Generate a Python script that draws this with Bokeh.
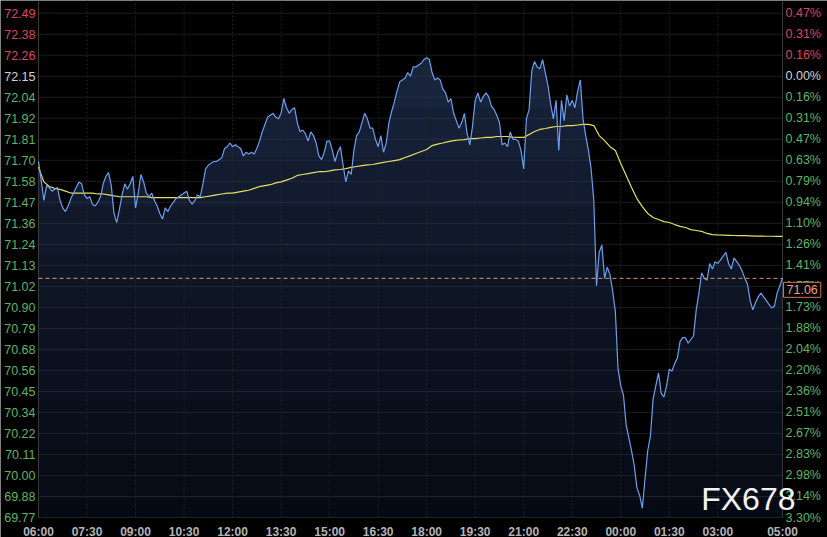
import numpy as np
from bokeh.plotting import figure
from bokeh.models import ColumnDataSource, Label, Range1d
from bokeh.core.properties import value
from bokeh.embed import file_html
from bokeh.resources import INLINE

# ---------------- data ----------------
price_step_minutes = 5       # price readings every 5 minutes from 06:00
avg_step_minutes = 10        # average-line readings every 10 minutes from 06:00
prev_close = 72.15

price = [
    71.69, 71.59, 71.48, 71.56, 71.55, 71.53, 71.54, 71.55, 71.48, 71.44,
    71.42, 71.45, 71.49, 71.52, 71.55, 71.58, 71.57, 71.51, 71.49, 71.50,
    71.46, 71.45, 71.47, 71.50, 71.57, 71.61, 71.63, 71.56, 71.41, 71.36,
    71.43, 71.51, 71.57, 71.54, 71.57, 71.61, 71.44, 71.52, 71.62, 71.58,
    71.52, 71.50, 71.52, 71.48, 71.45, 71.41, 71.38, 71.44, 71.42, 71.45,
    71.47, 71.49, 71.50, 71.51, 71.52, 71.53, 71.48, 71.46, 71.48, 71.51,
    71.50, 71.57, 71.65, 71.67, 71.68, 71.69, 71.69, 71.70, 71.71, 71.76,
    71.77, 71.79, 71.77, 71.78, 71.77, 71.76, 71.72, 71.74, 71.73, 71.74,
    71.73, 71.76, 71.80, 71.85, 71.89, 71.93, 71.94, 71.95, 71.93, 71.92,
    71.95, 72.03, 71.98, 71.95, 71.97, 71.98, 71.90, 71.85, 71.86, 71.84,
    71.80, 71.85, 71.83, 71.79, 71.72, 71.70, 71.74, 71.80, 71.80, 71.75,
    71.69, 71.74, 71.77, 71.67, 71.58, 71.64, 71.62, 71.75, 71.83, 71.85,
    71.90, 71.95, 71.92, 71.87, 71.87, 71.81, 71.77, 71.83, 71.74, 71.79,
    71.90, 71.96, 72.01, 72.07, 72.12, 72.13, 72.14, 72.17, 72.15, 72.20,
    72.20, 72.21, 72.22, 72.24, 72.25, 72.24, 72.17, 72.13, 72.14, 72.13,
    72.08, 72.06, 72.01, 72.03, 71.95, 71.91, 71.87, 71.90, 71.95, 71.84,
    71.78, 71.88, 72.02, 72.06, 72.01, 72.04, 72.06, 72.04, 71.99, 71.97,
    71.94, 71.90, 71.78, 71.79, 71.77, 71.85, 71.81, 71.81, 71.80, 71.75,
    71.65, 71.92, 71.97, 72.18, 72.23, 72.20, 72.19, 72.24, 72.17, 72.10,
    72.00, 71.92, 72.02, 71.75, 72.02, 71.91, 72.05, 71.99, 72.02, 71.98,
    72.07, 72.13, 71.92, 71.83, 71.75, 71.65, 71.48, 71.02, 71.20, 71.24,
    71.06, 71.12, 71.08, 70.99, 70.88, 70.57, 70.48, 70.43, 70.27, 70.20,
    70.13, 70.05, 69.93, 69.89, 69.82, 69.98, 70.13, 70.21, 70.41, 70.48,
    70.55, 70.44, 70.42, 70.48, 70.57, 70.56, 70.60, 70.63, 70.72, 70.74,
    70.74, 70.71, 70.73, 70.75, 70.89, 70.98, 71.09, 71.06, 71.05, 71.14,
    71.11, 71.15, 71.14, 71.16, 71.18, 71.20, 71.14, 71.11, 71.17, 71.15,
    71.13, 71.10, 71.06, 71.03, 70.94, 70.89, 70.93, 70.96, 70.98, 70.96,
    70.94, 70.92, 70.90, 70.91, 70.98, 71.02, 71.06,
]

average = [
    71.660, 71.580, 71.555, 71.545, 71.540, 71.530, 71.520, 71.520, 71.520, 71.520,
    71.520, 71.515, 71.515, 71.510, 71.505, 71.500, 71.500, 71.500, 71.500, 71.500,
    71.500, 71.495, 71.495, 71.495, 71.495, 71.495, 71.495, 71.495, 71.495, 71.495,
    71.495, 71.500, 71.505, 71.510, 71.515, 71.520, 71.520, 71.525, 71.530, 71.535,
    71.545, 71.555, 71.560, 71.565, 71.575, 71.580, 71.590, 71.600, 71.615, 71.620,
    71.625, 71.630, 71.635, 71.635, 71.640, 71.645, 71.647, 71.652, 71.658, 71.663,
    71.668, 71.672, 71.674, 71.680, 71.685, 71.690, 71.695, 71.700, 71.712, 71.722,
    71.733, 71.744, 71.755, 71.776, 71.784, 71.790, 71.797, 71.803, 71.806, 71.808,
    71.814, 71.814, 71.817, 71.820, 71.820, 71.825, 71.825, 71.825, 71.822, 71.820,
    71.820, 71.836, 71.852, 71.863, 71.868, 71.874, 71.879, 71.879, 71.884, 71.884,
    71.887, 71.890, 71.890, 71.884, 71.830, 71.803, 71.770, 71.749, 71.679, 71.615,
    71.550, 71.490, 71.447, 71.410, 71.388, 71.377, 71.366, 71.361, 71.350, 71.340,
    71.334, 71.323, 71.318, 71.313, 71.302, 71.296, 71.294, 71.293, 71.292, 71.291,
    71.290, 71.290, 71.289, 71.288, 71.288, 71.287, 71.287, 71.286, 71.286,
]

time_labels = ["06:00", "07:30", "09:00", "10:30", "12:00", "13:30", "15:00", "16:30",
               "18:00", "19:30", "21:00", "22:30", "00:00", "01:30", "03:00", "05:00"]

price_labels = ["72.49", "72.38", "72.26", "72.15", "72.04", "71.92", "71.81", "71.70",
                "71.58", "71.47", "71.36", "71.24", "71.13", "71.02", "70.90", "70.79",
                "70.68", "70.56", "70.45", "70.34", "70.22", "70.11", "70.00", "69.88",
                "69.77"]

pct_labels = ["0.47%", "0.31%", "0.16%", "0.00%", "0.16%", "0.31%", "0.47%", "0.63%",
              "0.79%", "0.94%", "1.10%", "1.26%", "1.41%", "1.57%", "1.73%", "1.88%",
              "2.04%", "2.20%", "2.36%", "2.51%", "2.67%", "2.83%", "2.98%", "3.14%",
              "3.30%"]

watermark = "FX678"

# ---------------- derived ----------------
price_arr = np.array(price)
t = np.arange(len(price)) * price_step_minutes / 60.0
t_avg = np.arange(len(average)) * avg_step_minutes / 60.0
t_end = float(t[-1])

def hours_since_start(lbl):
    h, m = map(int, lbl.split(":"))
    return ((h * 60 + m - 360) % 1440) / 60.0

time_ticks = [hours_since_start(l) for l in time_labels]
if time_ticks[-1] == 0:
    time_ticks[-1] = 24.0

lo = float(price_labels[-1])
hi = float(price_labels[0])
price_ticks = list(np.linspace(hi, lo, len(price_labels)))

RED, WHITE, GREEN = "#dc4662", "#d2d2d2", "#5fb55f"
def col(lbl):
    v = float(lbl)
    if abs(v - prev_close) < 0.005:
        return WHITE
    return RED if v > prev_close else GREEN
label_colors = [col(l) for l in price_labels]

# ---------------- layout ----------------
W, H = 827, 537
plot_left, plot_right = 38, 782        # pixel columns of the data area
top_tick_px, bottom_tick_px = 12.7, 517.0
px_per_h = (plot_right - plot_left) / t_end
px_per_u = (bottom_tick_px - top_tick_px) / (hi - lo)
x_start = -plot_left / px_per_h
x_end = t_end + (W - plot_right) / px_per_h
y_end = hi + top_tick_px / px_per_u
y_start = lo - (H - bottom_tick_px) / px_per_u

FONT = "Liberation Sans"

p = figure(width=W, height=H, output_backend="svg", toolbar_location=None,
           x_range=Range1d(x_start, x_end), y_range=Range1d(y_start, y_end),
           background_fill_color="#000000", border_fill_color="#000000",
           min_border=0, outline_line_color=None)
p.axis.visible = False
p.grid.visible = False

# area fill with a vertical darkening toward the bottom
p.varea(x=t, y1=lo, y2=price_arr, fill_color="#1b2843", fill_alpha=1.0)
for L in np.linspace(lo + 0.1, hi - 0.25, 10):
    p.varea(x=t, y1=lo, y2=np.minimum(price_arr, L), fill_color="#000000", fill_alpha=0.1)

# grid
p.segment(x0=0, x1=t_end, y0=price_ticks, y1=price_ticks, line_color="#3a3f48",
          line_alpha=0.45, line_width=1)
p.segment(x0=time_ticks[1:-1], x1=time_ticks[1:-1], y0=lo, y1=y_end,
          line_color="#2a2a2a", line_alpha=0.8, line_width=1, line_dash="2 2")
# frame edges
p.segment(x0=[0, t_end], x1=[0, t_end], y0=lo, y1=y_end, line_color="#3a3a3a", line_width=1)

p.line(t_avg, average, line_color="#e6df62", line_width=1.2)
p.line(t, price_arr, line_color="#6c9ff0", line_width=1.2)

# last price dashed line
last = price[-1]
p.segment(x0=0, x1=t_end, y0=last, y1=last, line_color="#d9985e",
          line_dash="4 3", line_width=1)

# price labels (left) and percent labels (right)
lsrc = ColumnDataSource(dict(x=[0.0] * len(price_ticks), y=price_ticks,
                             text=price_labels, color=label_colors))
p.text(x="x", y="y", text="text", source=lsrc, text_color="color",
       x_offset=-3, text_align="right", text_baseline="middle",
       text_font=value(FONT), text_font_size="12.5px")
rsrc = ColumnDataSource(dict(x=[t_end] * len(price_ticks), y=price_ticks,
                             text=pct_labels, color=label_colors))
p.text(x="x", y="y", text="text", source=rsrc, text_color="color",
       x_offset=3, text_align="left", text_baseline="middle",
       text_font=value(FONT), text_font_size="12.5px")

# time labels
p.text(x=time_ticks, y=[lo] * len(time_ticks), text=time_labels, text_color="#b4b4b4",
       y_offset=7, text_align="center", text_baseline="top", text_font_style="bold",
       text_font=value(FONT), text_font_size="12px")

# last price box
p.add_layout(Label(x=t_end, y=last, text=f"{last:.2f}", x_offset=1, y_offset=-4,
                   text_align="left", text_baseline="top", text_color="#eaa080",
                   text_font=FONT, text_font_size="12.5px",
                   background_fill_color="#000000", border_line_color="#c8785a",
                   padding=3))

# watermark
p.text(x=[t_end], y=[lo], text=[watermark], x_offset=13, y_offset=-1,
       text_align="right", text_baseline="bottom", text_color="#f2f2f2",
       text_font=value(FONT), text_font_size="32px")

open("out.html", "w").write(file_html(p, INLINE))
